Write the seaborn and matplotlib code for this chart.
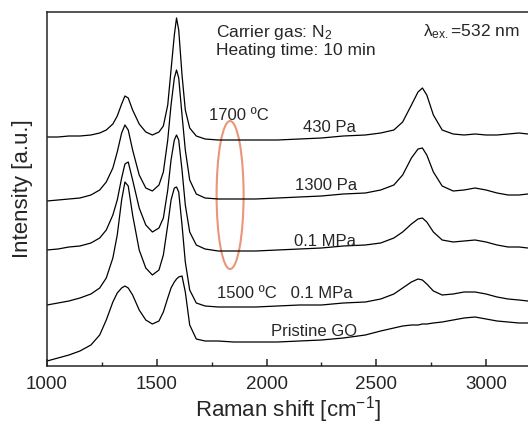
import numpy as np
import pandas as pd
import seaborn as sns
import matplotlib
matplotlib.use("Agg")
import matplotlib.pyplot as plt
from matplotlib.patches import Ellipse

# %% data (Raman shift in cm-1, intensity in a.u., stacked)
shift = [1000, 1050, 1100, 1150, 1200, 1240, 1270, 1300, 1320, 1340, 1355, 1370,
         1390, 1420, 1450, 1480, 1510, 1530, 1550, 1565, 1580, 1590, 1600, 1615,
         1630, 1650, 1680, 1720, 1780, 1850, 1950, 2050, 2150, 2250, 2350, 2450,
         2520, 2580, 2620, 2660, 2690, 2710, 2730, 2760, 2800, 2850, 2900, 2950,
         3000, 3050, 3100, 3150, 3190]

pa430 = [229, 229, 230, 230, 231, 233, 236, 242, 250, 262, 270, 268,
         256, 242, 234, 231, 234, 240, 261, 296, 331, 348, 336, 291,
         256, 238, 230, 227, 226, 226, 226, 226, 227, 228, 230, 231,
         233, 236, 244, 261, 274, 278, 271, 251, 236, 232, 231, 232,
         231, 231, 232, 233, 232]

pa1300 = [165, 166, 167, 168, 171, 176, 184, 198, 214, 233, 241, 236,
          216, 191, 178, 175, 181, 194, 226, 261, 288, 296, 288, 251,
          216, 186, 172, 168, 167, 167, 167, 168, 169, 170, 172, 173,
          176, 181, 191, 208, 217, 218, 211, 194, 180, 175, 176, 178,
          176, 173, 171, 171, 172]

mpa_1700 = [116, 117, 119, 120, 123, 128, 136, 151, 166, 188, 202, 204,
            186, 158, 141, 134, 138, 148, 176, 206, 226, 231, 226, 196,
            161, 134, 121, 117, 115, 115, 115, 116, 117, 118, 120, 121,
            123, 128, 134, 142, 147, 148, 144, 134, 126, 124, 125, 126,
            124, 121, 119, 119, 118]

mpa_1500 = [61, 63, 65, 68, 72, 78, 88, 108, 131, 166, 184, 180,
            151, 116, 98, 91, 96, 111, 141, 166, 178, 179, 174, 141,
            104, 76, 63, 60, 59, 59, 59, 60, 61, 61, 63, 64,
            67, 72, 78, 84, 87, 86, 82, 75, 71, 72, 74, 74,
            72, 69, 67, 66, 65]

pristine = [5, 8, 11, 15, 21, 31, 46, 64, 73, 78, 80, 78,
            71, 56, 46, 42, 45, 54, 68, 78, 84, 87, 89, 90,
            74, 41, 27, 25, 25, 24, 24, 24, 25, 26, 28, 31,
            35, 38, 40, 41, 41, 42, 42, 43, 44, 46, 48, 49,
            47, 45, 44, 43, 43]

samples = ["430 Pa", "1300 Pa", "0.1 MPa", "1500 0.1 MPa", "Pristine GO"]
spectra = [pa430, pa1300, mpa_1700, mpa_1500, pristine]

df = pd.concat(
    [pd.DataFrame({"shift": shift, "intensity": s, "sample": name})
     for name, s in zip(samples, spectra)],
    ignore_index=True,
)

# %% style
sns.set_style("ticks")
plt.rcParams.update({
    "font.family": ["Liberation Sans", "DejaVu Sans"],
    "mathtext.fontset": "custom",
    "mathtext.rm": "Liberation Sans",
    "mathtext.it": "Liberation Sans:italic",
    "axes.linewidth": 1.1,
})

fig = plt.figure(figsize=(5.28, 4.24), dpi=100)
ax = fig.add_axes([47 / 528, 1 - 366 / 424, 1 - 47 / 528, (366 - 12) / 424])

sns.lineplot(
    data=df, x="shift", y="intensity", hue="sample", hue_order=samples,
    palette=["black"] * 5, legend=False, sort=False, lw=0.9, ax=ax,
)

ax.set_xlim(1000, 3191)
ax.set_ylim(0, 354)
ax.spines["right"].set_visible(False)
ax.set_yticks([])
ax.set_xticks([1000, 1500, 2000, 2500, 3000])
ax.set_xticks([1250, 1750, 2250, 2750], minor=True)
ax.tick_params(axis="x", which="major", direction="in", length=5, width=1.1,
               labelsize=13.5, pad=7)
ax.tick_params(axis="x", which="minor", direction="in", length=3, width=1.0)
ax.set_xlabel("Raman shift [cm$^{-1}$]", fontsize=16, labelpad=1)
ax.set_ylabel("Intensity [a.u.]", fontsize=16, labelpad=10)

# annotations
fs = 12
ax.text(1770, 334, "Carrier gas: N$_2$", fontsize=12.5, va="center")
ax.text(1770, 316, "Heating time: 10 min", fontsize=12.5, va="center")
ax.text(2713, 334, "λ$_{\\rm ex.}$=532 nm", fontsize=12.5, va="center")
ax.text(1738, 251, "1700 ºC", fontsize=fs, va="center")
ax.text(2166, 239, "430 Pa", fontsize=fs, va="center")
ax.text(2130, 181, "1300 Pa", fontsize=fs, va="center")
ax.text(2125, 124, "0.1 MPa", fontsize=fs, va="center")
ax.text(1775, 73, "1500 ºC   0.1 MPa", fontsize=fs, va="center")
ax.text(2020, 34, "Pristine GO", fontsize=fs, va="center")

ax.add_patch(Ellipse((1834, 171), 123, 148, fill=False,
                     edgecolor="#E9967A", lw=1.5))

fig.savefig("out.png", dpi=100)
